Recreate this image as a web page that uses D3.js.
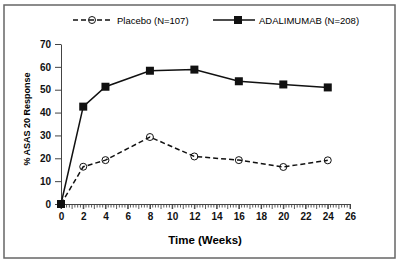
<!DOCTYPE html>
<html>
<head>
<meta charset="utf-8">
<script src="https://cdn.jsdelivr.net/npm/d3@7"></script>
<style>
  body { margin: 0; background: #fff; }
  svg { display: block; font-family: "Liberation Sans", Arial, sans-serif; }
</style>
</head>
<body>
<div id="chart"></div>
<script>
// data
var weeks = [0, 2, 4, 8, 12, 16, 20, 24];
var placebo = [0, 16.3, 19.2, 29.3, 20.8, 19.2, 16.2, 19.1];
var adalimumab = [0, 42.6, 51.3, 58.3, 58.8, 53.7, 52.3, 51.0];
var xTicks = [0, 2, 4, 6, 8, 10, 12, 14, 16, 18, 20, 22, 24, 26];
var yTicks = [0, 10, 20, 30, 40, 50, 60, 70];

var W = 400, H = 263,
    margin = {top: 44, right: 50, bottom: 59, left: 61},
    width = 350 - margin.left,
    height = 204 - margin.top;

var svg = d3.select("#chart").append("svg")
    .attr("width", W)
    .attr("height", H);

// outer frame
svg.append("rect")
    .attr("x", 4).attr("y", 5)
    .attr("width", 391).attr("height", 253)
    .attr("fill", "none")
    .attr("stroke", "#666")
    .attr("stroke-width", 1.5);

var g = svg.append("g")
    .attr("transform", "translate(" + margin.left + "," + margin.top + ")");

var xScale = d3.scaleLinear().domain([0, 26]).range([0, width]);
var yScale = d3.scaleLinear().domain([0, 70]).range([height, 0]);

// minor ticks on x axis (every quarter week)
var minor = d3.range(0, 26.001, 0.25);
g.append("g").attr("class", "minor")
    .selectAll("line")
    .data(minor)
    .enter().append("line")
    .attr("x1", function(d) { return xScale(d); })
    .attr("x2", function(d) { return xScale(d); })
    .attr("y1", height)
    .attr("y2", function(d) { return d % 1 === 0 ? height + 5 : height + 3.5; })
    .attr("stroke", "#333")
    .attr("stroke-width", 0.8);

var xAxis = d3.axisBottom(xScale).tickValues(xTicks).tickSize(5).tickSizeOuter(0);
var yAxis = d3.axisLeft(yScale).tickValues(yTicks).tickSize(6).tickSizeOuter(0);

var gx = g.append("g")
    .attr("transform", "translate(0," + height + ")")
    .call(xAxis);
gx.selectAll("text")
    .attr("dy", "0.71em")
    .attr("y", 9)
    .style("font-size", "10px")
    .style("font-weight", "bold")
    .attr("fill", "#111");

var gy = g.append("g").call(yAxis);
gy.selectAll("text")
    .attr("x", -10)
    .style("font-size", "10px")
    .style("font-weight", "bold")
    .attr("fill", "#111");

svg.selectAll(".domain").attr("stroke", "#444").attr("stroke-width", 1);
svg.selectAll(".tick line").attr("stroke", "#444");

// axis titles
svg.append("text")
    .attr("x", 205).attr("y", 244)
    .attr("text-anchor", "middle")
    .style("font-size", "11.5px")
    .style("font-weight", "bold")
    .text("Time (Weeks)");

svg.append("text")
    .attr("transform", "translate(30,119) rotate(-90)")
    .attr("text-anchor", "middle")
    .style("font-size", "9px")
    .style("font-weight", "bold")
    .text("% ASAS 20 Response");

var line = d3.line()
    .x(function(d, i) { return xScale(weeks[i]); })
    .y(function(d) { return yScale(d); });

// placebo
g.append("path")
    .datum(placebo)
    .attr("d", line)
    .attr("fill", "none")
    .attr("stroke", "#111")
    .attr("stroke-width", 1.5)
    .attr("stroke-dasharray", "5,3");

g.selectAll(".pc")
    .data(placebo)
    .enter().append("circle")
    .attr("class", "pc")
    .attr("cx", function(d, i) { return xScale(weeks[i]); })
    .attr("cy", function(d) { return yScale(d); })
    .attr("r", 3.5)
    .attr("fill", "none")
    .attr("stroke", "#111")
    .attr("stroke-width", 1);

// adalimumab
g.append("path")
    .datum(adalimumab)
    .attr("d", line)
    .attr("fill", "none")
    .attr("stroke", "#111")
    .attr("stroke-width", 1.5);

g.selectAll(".ad")
    .data(adalimumab)
    .enter().append("rect")
    .attr("class", "ad")
    .attr("x", function(d, i) { return xScale(weeks[i]) - 4; })
    .attr("y", function(d) { return yScale(d) - 4; })
    .attr("width", 8)
    .attr("height", 8)
    .attr("fill", "#111");

// legend
var leg = svg.append("g");
leg.append("line")
    .attr("x1", 73).attr("x2", 110).attr("y1", 20).attr("y2", 20)
    .attr("stroke", "#111").attr("stroke-width", 1.5)
    .attr("stroke-dasharray", "5,3");
leg.append("circle")
    .attr("cx", 92).attr("cy", 20).attr("r", 3.5)
    .attr("fill", "none").attr("stroke", "#111");
leg.append("text")
    .attr("x", 117).attr("y", 23.5)
    .style("font-size", "9.5px")
    .text("Placebo (N=107)");

leg.append("line")
    .attr("x1", 213).attr("x2", 255).attr("y1", 20).attr("y2", 20)
    .attr("stroke", "#111").attr("stroke-width", 1.5);
leg.append("rect")
    .attr("x", 234).attr("y", 16).attr("width", 8).attr("height", 8)
    .attr("fill", "#111");
leg.append("text")
    .attr("x", 259).attr("y", 23.5)
    .style("font-size", "9.5px")
    .text("ADALIMUMAB (N=208)");
</script>
</body>
</html>
